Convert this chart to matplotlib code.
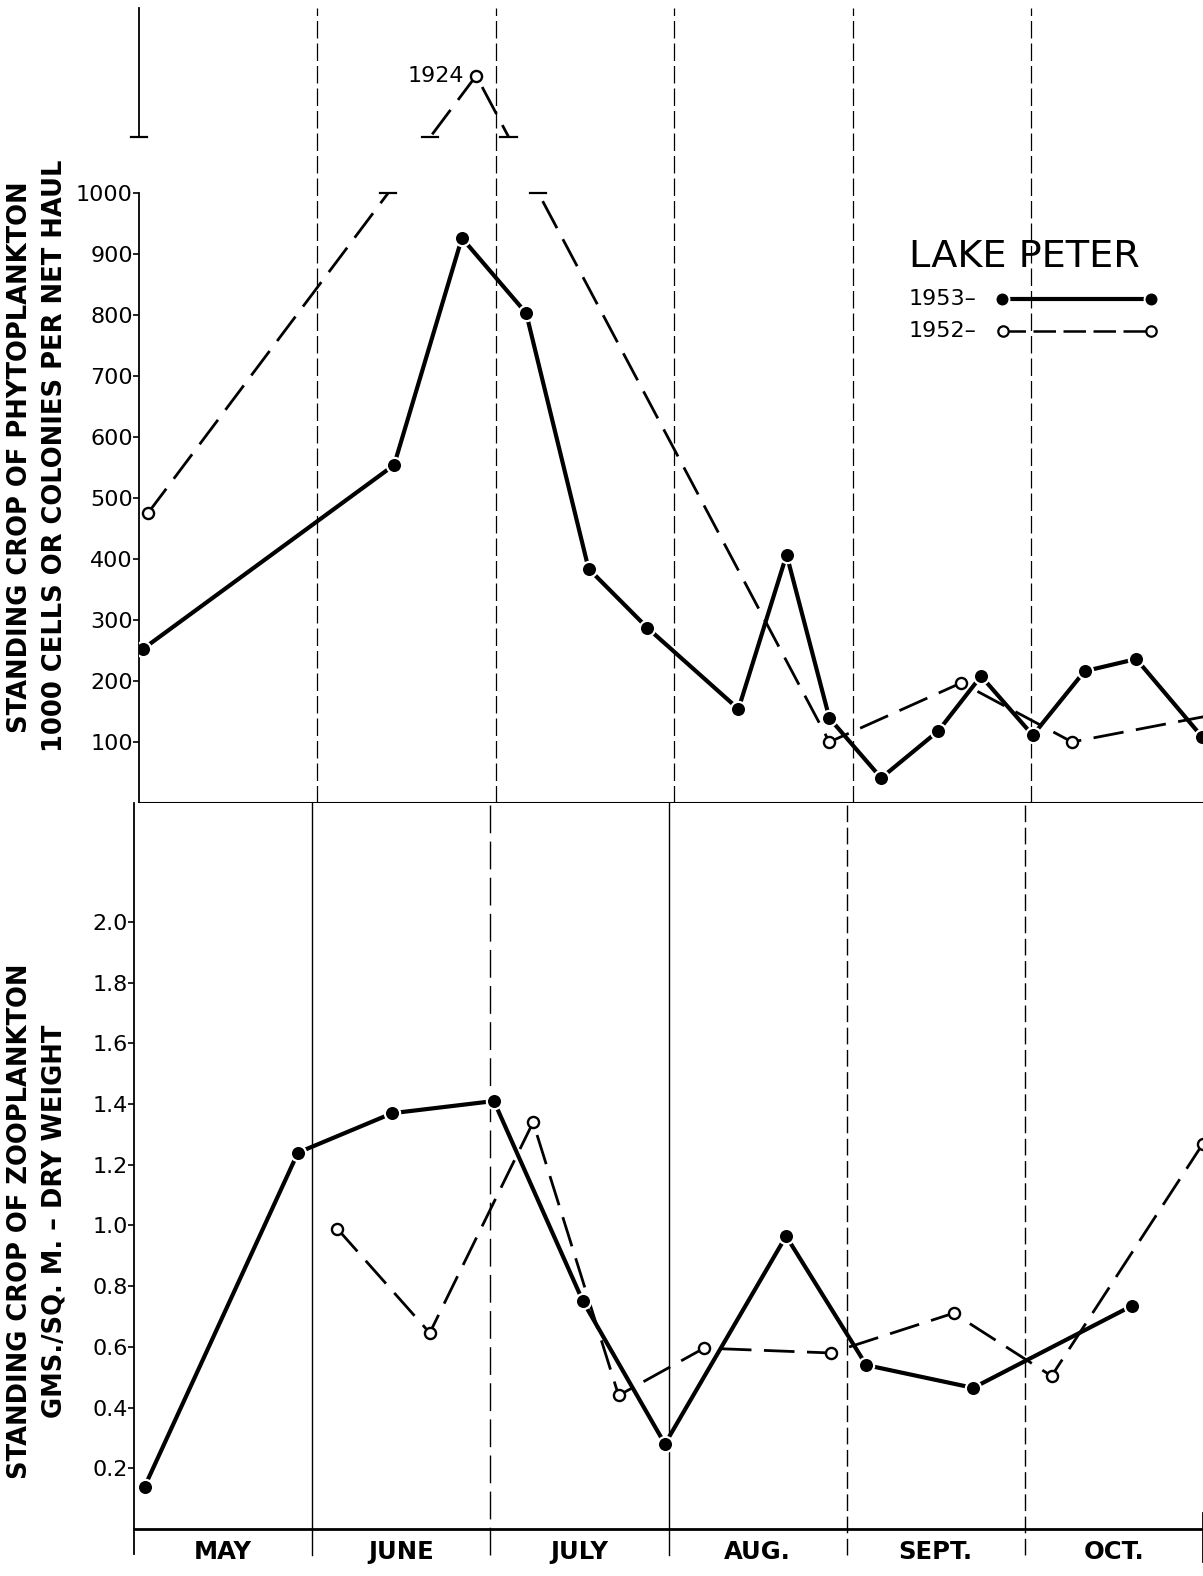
"""Lake Peter - standing crop of phytoplankton and zooplankton, 1952 vs 1953"""
import numpy as np
import matplotlib
matplotlib.use('Agg')
import matplotlib.pyplot as plt
from matplotlib.patches import Rectangle
from matplotlib.lines import Line2D
import matplotlib.transforms as mtransforms

W, H = 1203, 1576

months = ['MAY', 'JUNE', 'JULY', 'AUG.', 'SEPT.', 'OCT.']

# x = months after May 1
phyto_1953_x = [0.02, 1.43, 1.81, 2.17, 2.52, 2.85, 3.36, 3.63, 3.87, 4.16, 4.48, 4.72, 5.01, 5.30, 5.59, 5.96]
phyto_1953_y = [252, 554, 926, 803, 384, 287, 154, 407, 139, 41, 118, 208, 111, 216, 236, 108]
phyto_1952_x = [0.05, 1.89, 3.87, 4.61, 5.23, 6.05]
phyto_1952_y = [475, 1924, 100, 197, 100, 146]

zoo_1953_x = [0.06, 0.92, 1.45, 2.02, 2.52, 2.98, 3.66, 4.11, 4.71, 5.60]
zoo_1953_y = [0.14, 1.24, 1.37, 1.41, 0.75, 0.28, 0.965, 0.54, 0.465, 0.735]
zoo_1952_x = [1.14, 1.66, 2.24, 2.72, 3.20, 3.91, 4.60, 5.15, 6.00]
zoo_1952_y = [0.99, 0.646, 1.34, 0.44, 0.596, 0.58, 0.711, 0.504, 1.27]

phyto_ticks = [100, 200, 300, 400, 500, 600, 700, 800, 900, 1000]
zoo_ticks = [0.2, 0.4, 0.6, 0.8, 1.0, 1.2, 1.4, 1.6, 1.8, 2.0]

# broken phytoplankton axis: 1000..1824 squeezed into a small gap
LOW, HIGH, GAP = 1000, 1824, 92


def fwd(y):
    y = np.asarray(y, float)
    return np.where(y <= LOW, y,
                    np.where(y >= HIGH, y - HIGH + LOW + GAP,
                             LOW + (y - LOW) * GAP / (HIGH - LOW)))


def inv(t):
    t = np.asarray(t, float)
    return np.where(t <= LOW, t,
                    np.where(t >= LOW + GAP, t - LOW - GAP + HIGH,
                             LOW + (t - LOW) * (HIGH - LOW) / GAP))


def fx(px):
    return px / W


def fy(py):
    return 1 - py / H


plt.rcParams['font.family'] = 'DejaVu Sans'
fig = plt.figure(figsize=(W / 100, H / 100), dpi=100)

solid = dict(color='k', lw=3, zorder=4)
dot_full = dict(ls='none', marker='o', ms=11, mfc='k', mec='white', mew=1.6, zorder=6)
dashed = dict(color='k', lw=2, ls=(0, (11, 4.5)), zorder=3)
dot_open = dict(ls='none', marker='o', ms=8, mfc='white', mec='k', mew=1.7, zorder=6)

# ---------------- phytoplankton ----------------
ax = fig.add_axes([fx(139), fy(803), fx(1203 - 139), (803 - 8) / H])
ax.set_yscale('function', functions=(fwd, inv))
ax.set_xlim(0, (1203 - 139) / 178.4)
ax.set_ylim(0, 2035)

for m in range(1, 6):
    ax.axvline(m, color='k', lw=0.9, ls=(0, (14, 4)), zorder=1)

ax.plot(phyto_1953_x, phyto_1953_y, **solid)
ax.plot(phyto_1953_x, phyto_1953_y, **dot_full)

low_part = ax.plot(phyto_1952_x, phyto_1952_y, **dashed)[0]
high_part = ax.plot(phyto_1952_x, phyto_1952_y, **dashed)[0]
low_part.set_clip_path(Rectangle((-1, -500), 10, 500 + LOW, transform=ax.transData))
high_part.set_clip_path(Rectangle((-1, HIGH), 10, 5000, transform=ax.transData))
ax.plot(phyto_1952_x, phyto_1952_y, **dot_open)

# break caps where the dashed line leaves / re-enters the axis
tx = np.array(phyto_1952_x[:3])
ty = fwd(phyto_1952_y[:3])
for level in (LOW, LOW + GAP):
    for i in range(2):
        xc = tx[i] + (level - ty[i]) / (ty[i + 1] - ty[i]) * (tx[i + 1] - tx[i])
        ax.plot([xc - 0.045, xc + 0.045], [inv(level)] * 2, color='k', lw=1.6, zorder=3)

ax.annotate('1924', (phyto_1952_x[1], phyto_1952_y[1]), xytext=(-9, 0),
            textcoords='offset points', ha='right', va='center', fontsize=16)

for s in ['top', 'right']:
    ax.spines[s].set_visible(False)
ax.spines['left'].set_bounds(0, LOW)
ax.spines['left'].set_linewidth(1.3)
ax.spines['bottom'].set_linewidth(1.5)
ax.plot([0, 0], [HIGH, 2035], color='k', lw=1.3, clip_on=False)
ax.plot([-0.045, 0.045], [HIGH, HIGH], color='k', lw=1.6, clip_on=False)

ax.set_xticks([])
ax.set_yticks(phyto_ticks)
ax.set_yticklabels([str(t) for t in phyto_ticks])
ax.yaxis.set_minor_locator(matplotlib.ticker.NullLocator())
ax.tick_params(axis='y', direction='out', length=4, width=1.2, labelsize=16, pad=0.5)

# legend
fig.text(fx(909), fy(257), 'LAKE PETER', fontsize=27.5, ha='left', va='center')
fig.text(fx(909), fy(299), '1953–', fontsize=16, ha='left', va='center')
fig.text(fx(909), fy(331), '1952–', fontsize=16, ha='left', va='center')
fig.add_artist(Line2D([fx(1002), fx(1151)], [fy(299)] * 2, transform=fig.transFigure,
                      color='k', lw=3, marker='o', ms=10, mfc='k', mec='white', mew=1.4))
fig.add_artist(Line2D([fx(1003), fx(1151)], [fy(331)] * 2, transform=fig.transFigure,
                      color='k', lw=1.8, ls=(0, (9, 3)), marker='o', ms=7.5,
                      mfc='white', mec='k', mew=1.6))

# ---------------- zooplankton ----------------
ax2 = fig.add_axes([fx(134), fy(1529), fx(1203 - 134), (1529 - 803) / H])
ax2.set_xlim(0, 6.0)
ax2.set_ylim(0, 2.392)

line_styles = ['-', (0, (20, 6)), '-', (0, (12, 4)), (0, (12, 4))]
for m, st in zip(range(1, 6), line_styles):
    ax2.axvline(m, ymin=-0.036, ymax=1, color='k', lw=1.0, ls=st, clip_on=False, zorder=1)
ax2.axvline(0, ymin=-0.034, ymax=0, color='k', lw=1.3, clip_on=False)
ax2.axvline(6.0, ymin=-0.046, ymax=0.022, color='k', lw=1.3, clip_on=False)

ax2.plot(zoo_1953_x, zoo_1953_y, **solid)
ax2.plot(zoo_1953_x, zoo_1953_y, **dot_full)
ax2.plot(zoo_1952_x, zoo_1952_y, **dashed)
ax2.plot(zoo_1952_x, zoo_1952_y, **dot_open)

for s in ['top', 'right']:
    ax2.spines[s].set_visible(False)
ax2.spines['left'].set_linewidth(1.3)
ax2.spines['bottom'].set_linewidth(2)

ax2.set_xticks([])
ax2.set_yticks(zoo_ticks)
ax2.set_yticklabels([f'{t:.1f}' for t in zoo_ticks])
ax2.tick_params(axis='y', direction='out', length=4, width=1.2, labelsize=16, pad=0.5)

trans = mtransforms.blended_transform_factory(ax2.transData, ax2.transAxes)
for i, name in enumerate(months):
    ax2.text(i + 0.5, -0.032, name, transform=trans, ha='center', va='center',
             fontsize=17.5, fontweight='bold')

# axis titles
fig.text(fx(20), fy(457), 'STANDING CROP OF PHYTOPLANKTON', rotation=90,
         ha='center', va='center', fontsize=18.5, fontweight='bold')
fig.text(fx(55), fy(456), '1000 CELLS OR COLONIES PER NET HAUL', rotation=90,
         ha='center', va='center', fontsize=18.5, fontweight='bold')
fig.text(fx(20), fy(1221), 'STANDING CROP OF ZOOPLANKTON', rotation=90,
         ha='center', va='center', fontsize=18.5, fontweight='bold')
fig.text(fx(55), fy(1221), 'GMS./SQ. M. – DRY WEIGHT', rotation=90,
         ha='center', va='center', fontsize=18.5, fontweight='bold')

fig.savefig('out.png', dpi=100)
print('OK: saved out.png')
